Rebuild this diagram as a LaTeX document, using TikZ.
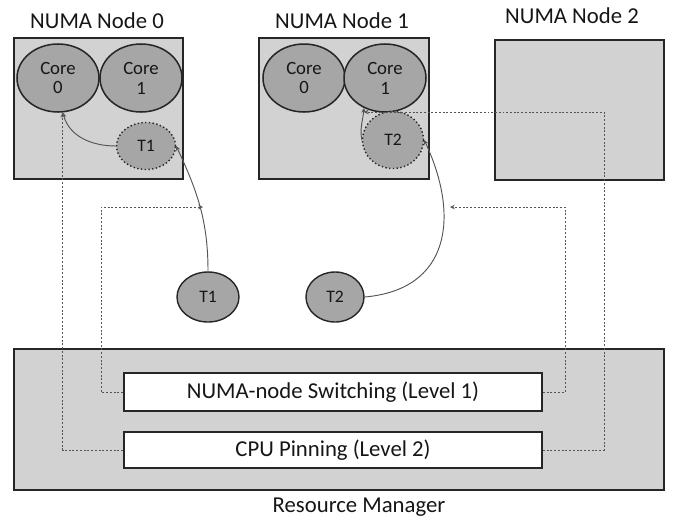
\documentclass[tikz,border=0pt]{standalone}
\usepackage{fontspec}
\setmainfont{Carlito}
\usetikzlibrary{shapes}
\definecolor{boxgray}{RGB}{210,210,210}
\definecolor{coregray}{RGB}{166,166,166}
\definecolor{linegray}{RGB}{85,85,85}
\definecolor{textgray}{RGB}{22,22,22}

\begin{document}
\begin{tikzpicture}[x=0.03cm,y=0.03cm,>=stealth,
    numabox/.style={draw=black!85,line width=1.5pt,fill=boxgray,inner sep=0pt},
    levelbox/.style={draw=black!85,line width=1.5pt,fill=white,minimum width=12.54cm,inner sep=0pt,
        text=textgray,font=\fontsize{19.4}{23}\selectfont},
    title/.style={text=textgray,font=\fontsize{19.4}{23}\selectfont,anchor=base,inner sep=0pt},
    core/.style={ellipse,draw=black!85,line width=1.3pt,fill=coregray,minimum width=2.46cm,
        minimum height=2.04cm,inner sep=0pt,align=center,text=textgray,font=\fontsize{16}{17}\selectfont},
    thread/.style={ellipse,draw=black!85,line width=1.2pt,fill=coregray,inner sep=0pt,
        text=textgray,font=\fontsize{15}{17}\selectfont},
    solidconn/.style={draw=linegray,line width=0.8pt,->},
    dotconn/.style={draw=linegray,line width=0.8pt,dash pattern=on 1.7pt off 1.5pt,->}]
    \useasboundingbox (0,0) rectangle (673,-520);

    % NUMA nodes
    \node[numabox,minimum width=5.07cm,minimum height=4.23cm] (numa0) at (98.5,-108.5) {};
    \node[numabox,minimum width=5.1cm,minimum height=4.23cm] (numa1) at (344,-108.5) {};
    \node[numabox,minimum width=5.07cm,minimum height=4.2cm] (numa2) at (579.5,-110) {};
    \node[title] (lab0) at (97,-28) {NUMA Node 0};
    \node[title] (lab1) at (342,-28) {NUMA Node 1};
    \node[title] (lab2) at (572,-23) {NUMA Node 2};

    \node[core] (c00) at (58,-78) {Core\\0};
    \node[core] (c01) at (141,-78) {Core\\1};
    \node[core] (c10) at (304,-78) {Core\\0};
    \node[core] (c11) at (385,-78) {Core\\1};

    \node[thread,dotted,minimum width=1.77cm,minimum height=1.41cm] (t1in) at (146,-146) {T1};
    \node[thread,dotted,minimum width=1.83cm,minimum height=1.71cm] (t2in) at (393,-140) {T2};

    % threads waiting
    \node[thread,minimum width=1.86cm,minimum height=1.5cm] (t1) at (208,-297) {T1};
    \node[thread,minimum width=1.74cm,minimum height=1.5cm] (t2) at (335,-297) {T2};

    % resource manager
    \node[numabox,minimum width=19.5cm,minimum height=4.23cm] (rm) at (339,-419.5) {};
    \node[levelbox,minimum height=1.14cm] (switch) at (333,-392) {NUMA-node Switching (Level 1)};
    \node[levelbox,minimum height=1.08cm] (pin) at (333,-450) {CPU Pinning (Level 2)};
    \node[title] (rmlab) at (359,-512) {Resource Manager};

    \draw[solidconn] (t1in.west) to[out=180,in=-75] (c00.-82);
    \draw[solidconn] (t2in.west) to[out=100,in=-95] (c11.-125);
    \draw[solidconn] (t1.north) to[out=90,in=-65] (t1in.east);
    \draw[solidconn] (t2.east) to[out=5,in=-65,looseness=1.3] (t2in.east);

    \coordinate (swL) at (101,-207);
    \coordinate (swLend) at (203,-207);
    \coordinate (swR) at (565,-207);
    \coordinate (swRend) at (450,-207);
    \coordinate (pinR) at (604,-112);
    \draw[dotconn] (switch.west) -| (swL) -- (swLend);
    \draw[dotconn] (switch.east) -| (swR) -- (swRend);
    \draw[dotconn] (pin.west) -| (c00.-82);
    \draw[dotconn] (pin.east) -| (pinR) -- (pinR -| c11.-125);
\end{tikzpicture}
\end{document}
